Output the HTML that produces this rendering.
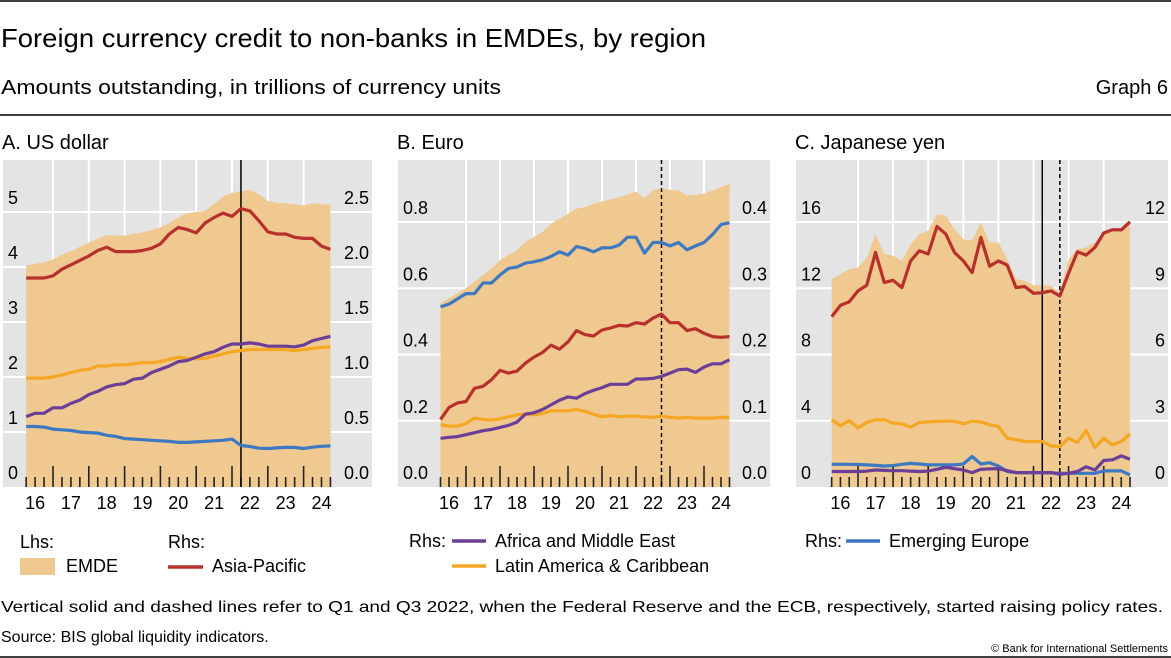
<!DOCTYPE html>
<html><head><meta charset="utf-8"><style>
html,body{margin:0;padding:0;background:#fff;}
svg{display:block;font-family:"Liberation Sans",sans-serif;}
</style></head><body>
<svg id="chart" width="1171" height="658" viewBox="0 0 1171 658" xmlns="http://www.w3.org/2000/svg">
<line x1="0" y1="1" x2="1171" y2="1" stroke="#000" stroke-width="1.5"/>
<text x="1" y="47" font-size="26" textLength="705" lengthAdjust="spacingAndGlyphs" fill="#000">Foreign currency credit to non-banks in EMDEs, by region</text>
<text x="1" y="94" font-size="20" textLength="500" lengthAdjust="spacingAndGlyphs" fill="#000">Amounts outstanding, in trillions of currency units</text>
<text x="1168" y="94" font-size="20" text-anchor="end" fill="#000">Graph 6</text>
<line x1="0" y1="115" x2="1171" y2="115" stroke="#000" stroke-width="1.5"/>
<g id="panels"></g>
<g>
<text x="20" y="548" font-size="18">Lhs:</text>
<text x="168" y="548" font-size="18">Rhs:</text>
<rect x="20" y="558" width="35" height="17" fill="#efc98f"/>
<text x="66" y="572" font-size="18">EMDE</text>
<line x1="168" y1="567" x2="203" y2="567" stroke="#b8302b" stroke-width="3.5"/>
<text x="212" y="572" font-size="18">Asia-Pacific</text>
</g>
<g>
<text x="409" y="547" font-size="18">Rhs:</text>
<line x1="452" y1="541" x2="486" y2="541" stroke="#6b3f98" stroke-width="3.5"/>
<text x="495" y="547" font-size="18">Africa and Middle East</text>
<line x1="452" y1="566" x2="486" y2="566" stroke="#f5a623" stroke-width="3.5"/>
<text x="495" y="572" font-size="18">Latin America &amp; Caribbean</text>
</g>
<g>
<text x="805" y="547" font-size="18">Rhs:</text>
<line x1="846" y1="541" x2="880" y2="541" stroke="#3c79c2" stroke-width="3.5"/>
<text x="889" y="547" font-size="18">Emerging Europe</text>
</g>
<text x="1" y="612" font-size="16" textLength="1162" lengthAdjust="spacingAndGlyphs">Vertical solid and dashed lines refer to Q1 and Q3 2022, when the Federal Reserve and the ECB, respectively, started raising policy rates.</text>
<text x="1" y="642" font-size="16">Source: BIS global liquidity indicators.</text>
<text x="1168" y="652" font-size="11" text-anchor="end">© Bank for International Settlements</text>
<line x1="0" y1="657" x2="1171" y2="657" stroke="#000" stroke-width="1.5"/>
</svg>
<script>
// Quarterly data Q1 2016 .. Q3 2024 (35 points)
const startYear = 2016.25;
const yearLabels = ["16","17","18","19","20","21","22","23","24"];
// Panel A: US dollar
const usdEmde = [4.03,4.06,4.08,4.14,4.22,4.29,4.37,4.44,4.52,4.58,4.57,4.57,4.60,4.63,4.67,4.72,4.80,4.90,4.98,5.00,5.02,5.15,5.28,5.35,5.38,5.40,5.32,5.20,5.17,5.16,5.14,5.12,5.16,5.14,5.13];
const usdAsia = [1.90,1.90,1.90,1.92,1.98,2.02,2.06,2.10,2.15,2.18,2.14,2.14,2.14,2.15,2.17,2.21,2.30,2.36,2.34,2.31,2.40,2.45,2.49,2.46,2.53,2.51,2.42,2.32,2.30,2.30,2.27,2.26,2.26,2.19,2.16];
const usdAfrica = [0.64,0.67,0.67,0.72,0.72,0.76,0.79,0.84,0.87,0.91,0.93,0.94,0.98,0.99,1.04,1.07,1.10,1.14,1.15,1.18,1.21,1.23,1.27,1.30,1.30,1.31,1.30,1.28,1.28,1.28,1.275,1.29,1.33,1.35,1.37];
const usdLatam = [0.99,0.99,0.99,1.00,1.02,1.04,1.06,1.07,1.10,1.10,1.11,1.11,1.12,1.13,1.13,1.14,1.16,1.18,1.17,1.165,1.17,1.19,1.21,1.23,1.24,1.25,1.25,1.25,1.25,1.25,1.24,1.25,1.26,1.27,1.275];
const usdEurope = [0.55,0.55,0.545,0.526,0.52,0.514,0.50,0.495,0.49,0.47,0.46,0.44,0.435,0.43,0.425,0.42,0.415,0.405,0.405,0.41,0.415,0.42,0.425,0.435,0.377,0.368,0.353,0.35,0.355,0.36,0.36,0.35,0.362,0.37,0.374];
const usdLeftTicks = ["0","1","2","3","4","5"];
const usdRightTicks = ["0.0","0.5","1.0","1.5","2.0","2.5"];
// Panel B: Euro
const eurEmde = [0.555,0.57,0.585,0.60,0.62,0.64,0.66,0.685,0.70,0.715,0.74,0.755,0.77,0.795,0.81,0.825,0.84,0.845,0.855,0.862,0.868,0.875,0.882,0.892,0.872,0.895,0.902,0.897,0.895,0.88,0.882,0.885,0.895,0.905,0.915];
const eurAsia = [0.102,0.120,0.127,0.129,0.149,0.152,0.162,0.176,0.172,0.175,0.187,0.196,0.203,0.214,0.208,0.219,0.236,0.230,0.228,0.237,0.240,0.244,0.243,0.248,0.246,0.255,0.261,0.248,0.248,0.236,0.239,0.232,0.227,0.226,0.227];
const eurAfrica = [0.0735,0.075,0.076,0.079,0.082,0.085,0.087,0.090,0.093,0.098,0.110,0.112,0.117,0.124,0.131,0.136,0.134,0.141,0.146,0.150,0.155,0.155,0.155,0.163,0.163,0.164,0.167,0.172,0.177,0.178,0.173,0.181,0.186,0.186,0.192];
const eurLatam = [0.094,0.092,0.092,0.096,0.104,0.102,0.101,0.103,0.106,0.109,0.110,0.109,0.111,0.115,0.115,0.115,0.117,0.114,0.110,0.106,0.108,0.106,0.107,0.107,0.106,0.105,0.107,0.105,0.104,0.105,0.104,0.104,0.104,0.105,0.105];
const eurEurope = [0.272,0.276,0.284,0.292,0.292,0.308,0.308,0.32,0.330,0.332,0.338,0.340,0.343,0.348,0.355,0.350,0.363,0.360,0.355,0.361,0.361,0.365,0.377,0.377,0.353,0.369,0.369,0.364,0.369,0.358,0.364,0.369,0.381,0.396,0.399];
const eurLeftTicks = ["0.0","0.2","0.4","0.6","0.8"];
const eurRightTicks = ["0.0","0.1","0.2","0.3","0.4"];
// Panel C: Japanese yen
const jpyEmde = [12.55,12.85,13.15,13.25,13.85,15.27,14.06,13.96,13.65,14.66,15.27,15.47,16.48,16.38,15.58,14.97,14.87,15.98,14.77,14.77,13.76,12.55,12.45,12.18,12.18,12.14,11.74,13.76,14.36,14.46,14.77,15.37,15.58,15.62,15.98];
const jpyAsia = [7.71,8.23,8.38,8.88,9.14,10.62,9.26,9.36,9.03,10.24,10.70,10.55,11.80,11.45,10.62,10.24,9.71,11.30,10.00,10.24,10.05,9.03,9.08,8.77,8.80,8.88,8.65,9.68,10.65,10.50,10.85,11.50,11.65,11.64,12.01];
const jpyAfrica = [0.70,0.70,0.70,0.70,0.72,0.77,0.75,0.74,0.74,0.72,0.70,0.72,0.80,0.89,0.83,0.77,0.65,0.80,0.82,0.83,0.74,0.65,0.65,0.65,0.65,0.65,0.58,0.62,0.70,0.92,0.77,1.20,1.23,1.41,1.26];
const jpyLatam = [3.045,2.77,3.01,2.67,2.92,3.045,3.045,2.89,2.86,2.71,2.92,2.95,2.97,2.98,2.98,2.86,2.98,2.95,2.82,2.74,2.21,2.14,2.06,2.06,2.06,1.86,1.83,2.21,2.02,2.56,1.79,2.21,1.91,2.06,2.41];
const jpyEurope = [1.03,1.03,1.03,1.02,1.00,0.98,0.95,0.97,1.03,1.07,1.04,1.00,1.00,1.00,1.00,1.04,1.38,1.04,1.10,0.95,0.70,0.65,0.65,0.65,0.65,0.64,0.62,0.62,0.62,0.62,0.62,0.73,0.73,0.73,0.55];
const jpyLeftTicks = ["0","4","8","12","16"];
const jpyRightTicks = ["0","3","6","9","12"];

const NS = "http://www.w3.org/2000/svg";
const root = document.getElementById("panels");
function mk(tag, attrs, parent){const e=document.createElementNS(NS,tag);for(const k in attrs)e.setAttribute(k,attrs[k]);(parent||root).appendChild(e);return e;}

const COLORS = {emde:"#efc98f", asia:"#b8302b", africa:"#6b3f98", latam:"#f5a623", europe:"#3c79c2"};

function drawPanel(p){
  const g = mk("g",{});
  
  
  const top=160, bot=487;
  const bg = mk("rect",{x:p.x0,y:top,width:p.x1-p.x0,height:bot-top,fill:"#e4e4e4"},g);
  
  
  const xs = t => p.x2017 + (t-2017)*p.yw;
  const yL = v => bot - (v/p.lmax)*(bot-p.ytop);
  const yR = v => bot - (v/p.rmax)*(bot-p.ytop);
  const nT = p.lticks.length;
  for(let i=1;i<nT;i++){
    const y = bot - i*(bot-p.ytop)/(nT-1);
    const l = mk("line",{x1:p.x0,x2:p.x1,y1:y,y2:y,stroke:"#fff","stroke-width":2},g);
    
    
  }
  for(let yr=2017; yr<=2024; yr++){
    const x = xs(yr);
    const l = mk("line",{x1:x,x2:x,y1:top,y2:bot,stroke:"#fff","stroke-width":2},g);
    
    
  }
  const n = p.emde.length;
  let d = "M"+xs(startYear)+","+bot;
  p.emde.forEach((v,i)=>{ d += " L"+xs(startYear+0.25*i).toFixed(1)+","+yL(v).toFixed(1); });
  d += " L"+xs(startYear+0.25*(n-1))+","+bot+" Z";
  const area = mk("path",{d:d,fill:COLORS.emde},g);
  
  
  for(let i=0;i<n;i++){
    const t = startYear+0.25*i;
    const major = Math.abs(t-Math.round(t))<1e-6;
    const x = xs(t);
    const tk = mk("line",{x1:x,x2:x,y1:bot,y2:bot-(major?21:10),stroke:"#222","stroke-width":1.6},g);
    
    
  }
  p.vlines.forEach(vl=>{
    const x = xs(vl.t);
    const attrs = {x1:x,x2:x,y1:top,y2:bot,stroke:"#000","stroke-width":1.5};
    if(vl.dash) attrs["stroke-dasharray"]="4,3";
    const l = mk("line",attrs,g);
    
    
  });
  p.series.forEach(s=>{
    const pts = s.data.map((v,i)=>xs(startYear+0.25*i).toFixed(1)+","+yR(v).toFixed(1)).join(" ");
    const pl = mk("polyline",{points:pts,fill:"none",stroke:s.color,"stroke-width":3.2,"stroke-linejoin":"round"},g);
    
    
  });
  p.lticks.forEach((lab,i)=>{
    const y = bot - i*(bot-p.ytop)/(nT-1) - 8;
    const t = mk("text",{x:p.x0+5,y:y,"font-size":18,fill:"#000"},g);
    t.textContent = lab;
    
    
  });
  p.rticks.forEach((lab,i)=>{
    const y = bot - i*(bot-p.ytop)/(nT-1) - 8;
    const t = mk("text",{x:p.x1-3,y:y,"font-size":18,fill:"#000","text-anchor":"end"},g);
    t.textContent = lab;
    
    
  });
  yearLabels.forEach((lab,i)=>{
    const x = xs(2016+i+0.5);
    const t = mk("text",{x:x,y:509,"font-size":18,fill:"#000","text-anchor":"middle"},g);
    t.textContent = lab;
    
    
  });
  const tt = mk("text",{x:p.x0-1,y:149,"font-size":20,fill:"#000"},g);
  tt.textContent = p.title;
  
  
}

drawPanel({name:"panel-a-us-dollar", title:"A. US dollar", x0:3, x1:372, x2017:53, yw:35.8, ytop:212, lmax:5, rmax:2.5,
  lticks:usdLeftTicks, rticks:usdRightTicks, emde:usdEmde, vlines:[{t:2022.25,dash:false}],
  series:[{name:"usd-latam-line",data:usdLatam,color:COLORS.latam},{name:"usd-africa-line",data:usdAfrica,color:COLORS.africa},{name:"usd-europe-line",data:usdEurope,color:COLORS.europe},{name:"usd-asia-pacific-line",data:usdAsia,color:COLORS.asia}]});
drawPanel({name:"panel-b-euro", title:"B. Euro", x0:398, x1:770, x2017:466, yw:34, ytop:222, lmax:0.8, rmax:0.4,
  lticks:eurLeftTicks, rticks:eurRightTicks, emde:eurEmde, vlines:[{t:2022.75,dash:true}],
  series:[{name:"eur-latam-line",data:eurLatam,color:COLORS.latam},{name:"eur-africa-line",data:eurAfrica,color:COLORS.africa},{name:"eur-europe-line",data:eurEurope,color:COLORS.europe},{name:"eur-asia-pacific-line",data:eurAsia,color:COLORS.asia}]});
drawPanel({name:"panel-c-japanese-yen", title:"C. Japanese yen", x0:796, x1:1168, x2017:858, yw:35.1, ytop:222, lmax:16, rmax:12,
  lticks:jpyLeftTicks, rticks:jpyRightTicks, emde:jpyEmde, vlines:[{t:2022.25,dash:false},{t:2022.75,dash:true}],
  series:[{name:"jpy-latam-line",data:jpyLatam,color:COLORS.latam},{name:"jpy-europe-line",data:jpyEurope,color:COLORS.europe},{name:"jpy-africa-line",data:jpyAfrica,color:COLORS.africa},{name:"jpy-asia-pacific-line",data:jpyAsia,color:COLORS.asia}]});
</script>
</body></html>
